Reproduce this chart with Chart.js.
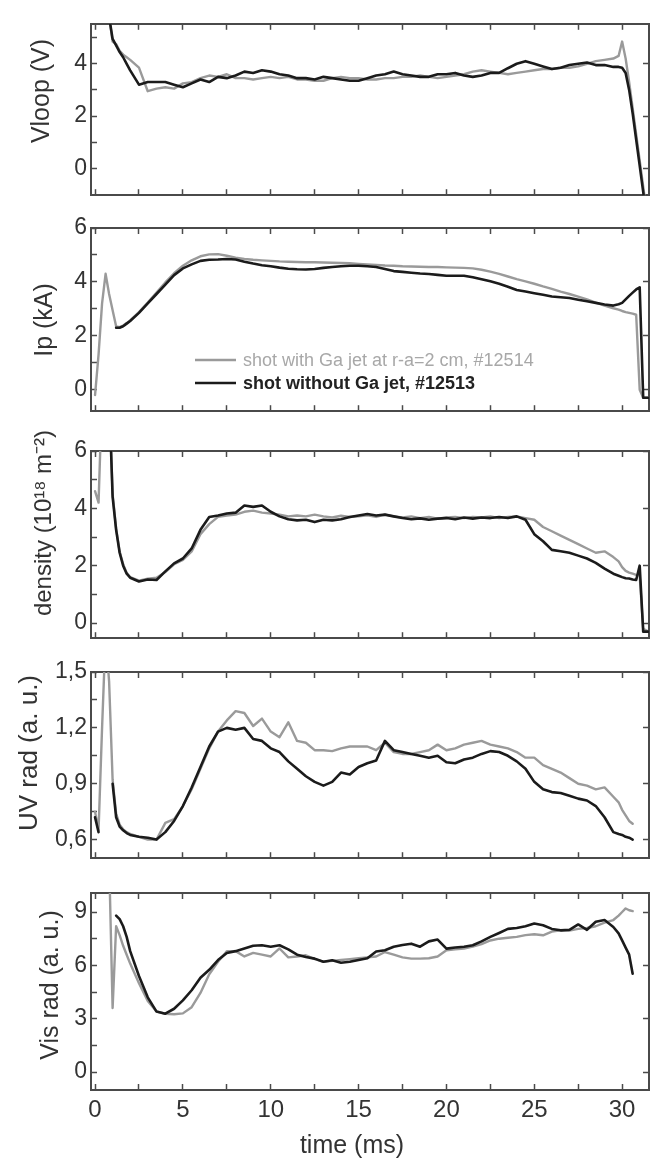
<!DOCTYPE html>
<html>
<head>
<meta charset="utf-8">
<script src="https://cdn.jsdelivr.net/npm/chart.js@4.4.1/dist/chart.umd.min.js"></script>
<style>
  html, body { margin: 0; padding: 0; background: #fff; }
  #fig { position: relative; width: 650px; height: 1160px; overflow: hidden; }
  #fig canvas { position: absolute; left: 0; }
</style>
</head>
<body>
<div id="fig"></div>
<script>
// time base (ms), shared by every trace
const time = [0, 0.2, 0.4, 0.6, 0.8, 1, 1.2, 1.4, 1.6, 1.8, 2,
  2.5, 3, 3.5, 4, 4.5, 5, 5.5, 6, 6.5, 7,
  7.5, 8, 8.5, 9, 9.5, 10, 10.5, 11, 11.5, 12,
  12.5, 13, 13.5, 14, 14.5, 15, 15.5, 16, 16.5, 17,
  17.5, 18, 18.5, 19, 19.5, 20, 20.5, 21, 21.5, 22,
  22.5, 23, 23.5, 24, 24.5, 25, 25.5, 26, 26.5, 27,
  27.5, 28, 28.5, 29, 29.5,
  29.8, 30, 30.2, 30.4, 30.6, 30.8, 31, 31.2, 31.5];

// shot #12513 (no Ga jet) and #12514 (Ga jet)
const vloopNoJet = [null, null, 9, 8, 5.8, 4.95, 4.7, 4.45, 4.25, 4.0, 3.75,
  3.2, 3.3, 3.3, 3.3, 3.2, 3.1, 3.25, 3.4, 3.3, 3.5,
  3.45, 3.55, 3.7, 3.65, 3.75, 3.7, 3.6, 3.55, 3.45, 3.45,
  3.4, 3.5, 3.45, 3.4, 3.35, 3.35, 3.45, 3.55, 3.6, 3.7,
  3.6, 3.55, 3.5, 3.5, 3.6, 3.6, 3.65, 3.55, 3.5, 3.55,
  3.65, 3.65, 3.83, 4.0, 4.1, 4.0, 3.9, 3.8, 3.85, 3.95,
  4.0, 4.05, 3.95, 3.95, 3.88,
  3.88, 3.85, 3.65, 3.0, 2.1, 1.1, 0.1, -0.9, -2.4];
const vloopGaJet = [null, null, 9, 8, 5.8, 4.85, 4.75, 4.5, 4.35, 4.25, 4.15,
  3.85, 2.95, 3.05, 3.1, 3.05, 3.25, 3.3, 3.45, 3.55, 3.5,
  3.6, 3.45, 3.45, 3.4, 3.45, 3.5, 3.45, 3.5, 3.4, 3.4,
  3.35, 3.35, 3.45, 3.5, 3.45, 3.45, 3.4, 3.4, 3.45, 3.45,
  3.5, 3.5, 3.55, 3.5, 3.45, 3.5, 3.55, 3.6, 3.7, 3.75,
  3.7, 3.65, 3.6, 3.65, 3.7, 3.75, 3.8, 3.8, 3.85, 3.85,
  3.9, 4.0, 4.1, 4.15, 4.2,
  4.3, 4.85, 4.2, 3.3, 2.3, 1.3, 0.3, -0.7, -2.2];

const ipNoJet = [null, null, null, null, null, null, 2.3, 2.3, 2.35, 2.45, 2.55,
  2.85, 3.2, 3.55, 3.9, 4.25, 4.5, 4.65, 4.78, 4.82, 4.83,
  4.85, 4.83, 4.75, 4.68, 4.62, 4.58, 4.53, 4.49, 4.47, 4.46,
  4.48, 4.52, 4.55, 4.58, 4.6, 4.6, 4.58, 4.55, 4.48, 4.4,
  4.37, 4.34, 4.31, 4.29, 4.26, 4.23, 4.23, 4.23, 4.17, 4.1,
  4.02, 3.93, 3.82, 3.7, 3.64, 3.58, 3.52, 3.46, 3.43, 3.4,
  3.34, 3.28, 3.22, 3.16, 3.12,
  3.17, 3.22, 3.35, 3.48, 3.6, 3.72, 3.8, -0.3, -0.3];
const ipGaJet = [-0.2, 1.3, 3.2, 4.3, 3.55, 2.95, 2.35, 2.32, 2.38, 2.47, 2.57,
  2.88, 3.23, 3.6, 3.98, 4.32, 4.6, 4.8, 4.95, 5.02, 5.03,
  4.97, 4.9, 4.85, 4.82, 4.8, 4.78, 4.76, 4.75, 4.74, 4.73,
  4.73, 4.72, 4.71, 4.7, 4.69, 4.67, 4.65, 4.63, 4.61, 4.6,
  4.58, 4.57, 4.56, 4.55, 4.55, 4.54, 4.53, 4.52, 4.5, 4.45,
  4.38, 4.3, 4.2, 4.1, 4.02, 3.93, 3.83, 3.74, 3.64, 3.55,
  3.45, 3.35, 3.23, 3.12, 3.02,
  2.97, 2.92, 2.88, 2.85, 2.82, 2.78, 0.0, -0.3, -0.3];

const densNoJet = [null, null, null, null, 8, 4.4, 3.25, 2.45, 2.0, 1.72, 1.58,
  1.45, 1.52, 1.5, 1.8, 2.08, 2.25, 2.6, 3.25, 3.7, 3.75,
  3.82, 3.85, 4.1, 4.05, 4.1, 3.88, 3.72, 3.62, 3.58, 3.6,
  3.52, 3.6, 3.58, 3.62, 3.7, 3.75, 3.8, 3.75, 3.78, 3.72,
  3.66, 3.62, 3.65, 3.6, 3.64, 3.66, 3.62, 3.68, 3.64, 3.68,
  3.66, 3.7, 3.66, 3.72, 3.6, 3.1, 2.85, 2.55, 2.5, 2.45,
  2.35, 2.25, 2.1, 1.9, 1.72,
  1.65, 1.6, 1.56, 1.55, 1.52, 1.5, 2.0, -0.3, -0.3];
const densGaJet = [4.6, 4.2, 8, 8, 8, 4.5, 3.3, 2.5, 2.05, 1.75, 1.6,
  1.48, 1.55, 1.58, 1.78, 2.05, 2.2, 2.5, 3.1, 3.45, 3.7,
  3.75, 3.78, 3.88, 3.92, 3.85, 3.82, 3.78, 3.72, 3.75, 3.72,
  3.78, 3.72, 3.68, 3.74, 3.7, 3.72, 3.76, 3.7, 3.78, 3.72,
  3.68, 3.72, 3.66, 3.7, 3.64, 3.68, 3.7, 3.66, 3.7, 3.68,
  3.72, 3.66, 3.7, 3.72, 3.66, 3.6, 3.35, 3.2, 3.05, 2.9,
  2.75, 2.6, 2.45, 2.5, 2.3,
  2.15, 1.95, 1.82, 1.76, 1.72, 1.68, 1.65, -0.2, -0.3];

const uvNoJet = [0.72, 0.64, null, null, null, 0.9, 0.72, 0.67, 0.65, 0.635, 0.625,
  0.615, 0.61, 0.6, 0.64, 0.7, 0.78, 0.88, 0.99, 1.1, 1.18,
  1.2, 1.19, 1.2, 1.14, 1.13, 1.09, 1.07, 1.02, 0.98, 0.94,
  0.91, 0.89, 0.91, 0.96, 0.95, 0.99, 1.01, 1.025, 1.13, 1.08,
  1.07, 1.06, 1.05, 1.04, 1.05, 1.015, 1.01, 1.03, 1.04, 1.06,
  1.075, 1.07, 1.05, 1.02, 0.98, 0.91, 0.87, 0.855, 0.85, 0.835,
  0.82, 0.81, 0.78, 0.72, 0.64,
  0.63, 0.625, 0.615, 0.61, 0.6, null, null, null, null];
const uvGaJet = [0.75, 0.65, 1.2, 1.7, 1.45, 0.92, 0.74, 0.68, 0.655, 0.64, 0.63,
  0.615, 0.6, 0.6, 0.69, 0.71, 0.78, 0.87, 0.98, 1.09, 1.18,
  1.24, 1.29, 1.28, 1.21, 1.25, 1.18, 1.15, 1.23, 1.13, 1.12,
  1.08, 1.08, 1.075, 1.09, 1.1, 1.1, 1.1, 1.08, 1.12, 1.07,
  1.06, 1.06, 1.07, 1.08, 1.11, 1.08, 1.09, 1.11, 1.12, 1.13,
  1.11, 1.1, 1.09, 1.07, 1.04, 1.04, 1.0, 0.98, 0.96, 0.93,
  0.9, 0.89, 0.87, 0.88, 0.83,
  0.8, 0.76, 0.73, 0.7, 0.685, null, null, null, null];

const visNoJet = [null, null, null, null, null, null, 8.8, 8.6, 8.2, 7.6, 6.8,
  5.4, 4.2, 3.4, 3.28, 3.56, 4.03, 4.6, 5.3, 5.75, 6.3,
  6.7, 6.8, 6.95, 7.1, 7.13, 7.05, 7.13, 6.9, 6.6, 6.47,
  6.38, 6.2, 6.29, 6.15, 6.2, 6.3, 6.4, 6.78, 6.85, 7.05,
  7.15, 7.22, 7.05, 7.35, 7.45, 6.94, 7.0, 7.05, 7.13, 7.35,
  7.6, 7.82, 8.05, 8.1, 8.2, 8.35, 8.26, 8.05, 7.97, 8.0,
  8.3, 8.0, 8.45, 8.55, 8.16,
  7.8, 7.41, 7.0, 6.6, 5.53, null, null, null, null];
const visGaJet = [null, null, null, 12, 12, 3.6, 8.2, 7.7, 7.1, 6.6, 6.1,
  5.0, 4.0, 3.4, 3.28, 3.25, 3.3, 3.65, 4.45, 5.5, 6.2,
  6.8, 6.8, 6.5, 6.7, 6.6, 6.5, 6.95, 6.45, 6.5, 6.57,
  6.35, 6.2, 6.25, 6.3, 6.35, 6.4, 6.45, 6.5, 6.75, 6.6,
  6.45, 6.38, 6.38, 6.4, 6.5, 6.85, 6.9, 6.95, 7.05, 7.2,
  7.4, 7.5, 7.55, 7.6, 7.7, 7.75, 7.69, 7.9, 7.97, 7.95,
  8.05, 8.1, 8.2, 8.4, 8.55,
  8.8, 9.0, 9.2, 9.1, 9.05, null, null, null, null];

// ticks
const xTicks = [0, 2.5, 5, 7.5, 10, 12.5, 15, 17.5, 20, 22.5, 25, 27.5, 30];
const xTickText = ['0', '', '5', '', '10', '', '15', '', '20', '', '25', '', '30'];
const vloopTicks = [0, 1, 2, 3, 4, 5];
const vloopTickText = ['0', '', '2', '', '4', ''];
const ipTicks = [0, 1, 2, 3, 4, 5, 6];
const ipTickText = ['0', '', '2', '', '4', '', '6'];
const densTicks = [0, 1, 2, 3, 4, 5, 6];
const densTickText = ['0', '', '2', '', '4', '', '6'];
const uvTicks = [0.6, 0.75, 0.9, 1.05, 1.2, 1.35, 1.5];
const uvTickText = ['0,6', '', '0,9', '', '1,2', '', '1,5'];
const visTicks = [0, 1.5, 3, 4.5, 6, 7.5, 9];
const visTickText = ['0', '', '3', '', '6', '', '9'];

const seriesNames = ['shot without Ga jet, #12513', 'shot with Ga jet at r-a=2 cm, #12514'];

const BLACK = '#1b1b1b';
const GRAY = '#9a9a9a';
const FRAME = '#4a4a4a';
const TEXT = '#333';
const FONT = '"Liberation Sans", Arial, Helvetica, sans-serif';
const X_MIN = -0.23, X_MAX = 31.53;

const panels = [
  { title: 'Vloop (V)', noJet: vloopNoJet, gaJet: vloopGaJet, ticks: vloopTicks, tickText: vloopTickText,
    min: -1.03, max: 5.53, top: 7, bottom: 205, titleX: 42, titleY: 91, titleSize: 25 },
  { title: 'Ip (kA)', noJet: ipNoJet, gaJet: ipGaJet, ticks: ipTicks, tickText: ipTickText,
    min: -0.8, max: 6, top: 228, bottom: 421, titleX: 45, titleY: 320, titleSize: 25, legend: true },
  { title: 'density (10\u00B9\u2078 m\u207B\u00B2)', noJet: densNoJet, gaJet: densGaJet, ticks: densTicks, tickText: densTickText,
    min: -0.53, max: 6, top: 451, bottom: 648, titleX: 44, titleY: 523, titleSize: 24 },
  { title: 'UV rad (a. u.)', noJet: uvNoJet, gaJet: uvGaJet, ticks: uvTicks, tickText: uvTickText,
    min: 0.5, max: 1.5, top: 672, bottom: 868, titleX: 30, titleY: 753, titleSize: 26 },
  { title: 'Vis rad (a. u.)', noJet: visNoJet, gaJet: visGaJet, ticks: visTicks, tickText: visTickText,
    min: -1.01, max: 10.07, top: 893, bottom: 1090, titleX: 51, titleY: 985, titleSize: 25, last: true }
];

// axis titles placed per panel (rot -90 for y titles)
const panelText = {
  id: 'panelText',
  afterDraw(chart, args, opts) {
    const ctx = chart.ctx;
    opts.items.forEach(it => {
      ctx.save();
      ctx.translate(it.x, it.y);
      if (it.rot) ctx.rotate(-Math.PI / 2);
      ctx.font = it.size + 'px ' + FONT;
      ctx.fillStyle = TEXT;
      ctx.textAlign = 'center';
      ctx.textBaseline = 'middle';
      ctx.fillText(it.text, 0, 0);
      ctx.restore();
    });
  }
};

// legend inside the Ip panel
const inLegend = {
  id: 'inLegend',
  afterDatasetsDraw(chart, args, opts) {
    if (!opts.display) return;
    const ctx = chart.ctx;
    const rows = [chart.data.datasets[1], chart.data.datasets[0]];
    rows.forEach((ds, i) => {
      const y = opts.y + i * opts.gap;
      ctx.save();
      ctx.strokeStyle = ds.borderColor;
      ctx.lineWidth = 2.5;
      ctx.beginPath();
      ctx.moveTo(opts.x, y);
      ctx.lineTo(opts.x + opts.len, y);
      ctx.stroke();
      ctx.font = (i === 1 ? 'bold ' : '') + '18px ' + FONT;
      ctx.fillStyle = i === 1 ? '#222' : '#a8a8a8';
      ctx.textBaseline = 'middle';
      ctx.fillText(ds.label, opts.x + opts.len + 7, y + 1);
      ctx.restore();
    });
  }
};

const fig = document.getElementById('fig');

function toXY(vals) {
  return time.map((t, i) => ({ x: t, y: vals[i] }));
}

function makePanel(p) {
  const marginTop = Math.min(40, p.top);
  const canvasTop = p.top - marginTop;
  const bottomSpace = p.last ? 1160 - p.bottom : 14;
  const h = p.bottom - canvasTop + bottomSpace;
  const canvas = document.createElement('canvas');
  canvas.width = 650;
  canvas.height = h;
  canvas.style.top = canvasTop + 'px';
  fig.appendChild(canvas);

  const labelled = p.ticks.filter((v, i) => p.tickText[i] !== '');
  const gridOpts = { drawOnChartArea: false, drawTicks: true, tickLength: -6, color: FRAME, tickWidth: 1.5 };
  const borderOpts = { display: true, color: FRAME, width: 2 };

  const texts = [{ text: p.title, x: p.titleX, y: p.titleY - canvasTop, size: p.titleSize, rot: true }];
  if (p.last) texts.push({ text: 'time (ms)', x: 352, y: 1146 - canvasTop, size: 25, rot: false });

  new Chart(canvas, {
    type: 'line',
    data: {
      datasets: [
        { label: seriesNames[0], data: toXY(p.noJet), borderColor: BLACK, borderWidth: 2.6, order: 0 },
        { label: seriesNames[1], data: toXY(p.gaJet), borderColor: GRAY, borderWidth: 2.4, order: 1 }
      ]
    },
    options: {
      animation: false,
      responsive: false,
      devicePixelRatio: 1,
      events: [],
      layout: { padding: 0, autoPadding: false },
      elements: {
        point: { radius: 0 },
        line: { tension: 0, borderJoinStyle: 'round', borderCapStyle: 'round' }
      },
      plugins: {
        legend: { display: false },
        tooltip: { enabled: false },
        panelText: { items: texts },
        inLegend: { display: !!p.legend, x: 195, y: 360 - canvasTop, gap: 23, len: 41 }
      },
      scales: {
        x: {
          type: 'linear', position: 'bottom', min: X_MIN, max: X_MAX,
          afterBuildTicks: s => { s.ticks = xTicks.map(v => ({ value: v })); },
          afterFit: s => { s.height = bottomSpace; },
          border: borderOpts,
          grid: gridOpts,
          ticks: {
            display: !!p.last, autoSkip: false, maxRotation: 0, padding: 12,
            color: TEXT, font: { family: FONT, size: 24 },
            callback: (v, i) => xTickText[i]
          }
        },
        x2: {
          type: 'linear', position: 'top', min: X_MIN, max: X_MAX,
          afterBuildTicks: s => { s.ticks = xTicks.map(v => ({ value: v })); },
          afterFit: s => { s.height = marginTop; },
          border: borderOpts,
          grid: gridOpts,
          ticks: { display: false }
        },
        y: {
          type: 'linear', position: 'left', min: p.min, max: p.max,
          afterBuildTicks: s => { s.ticks = p.ticks.map(v => ({ value: v })); },
          afterFit: s => { s.width = 91; },
          border: borderOpts,
          grid: gridOpts,
          ticks: {
            autoSkip: false, padding: 10, color: TEXT, font: { family: FONT, size: 23 },
            callback: (v, i) => p.tickText[i]
          }
        },
        y2: {
          type: 'linear', position: 'right', min: p.min, max: p.max,
          afterBuildTicks: s => { s.ticks = labelled.map(v => ({ value: v })); },
          afterFit: s => { s.width = 1; },
          border: borderOpts,
          grid: gridOpts,
          ticks: { display: false }
        }
      }
    },
    plugins: [panelText, inLegend]
  });
}

panels.forEach(makePanel);
</script>
</body>
</html>
